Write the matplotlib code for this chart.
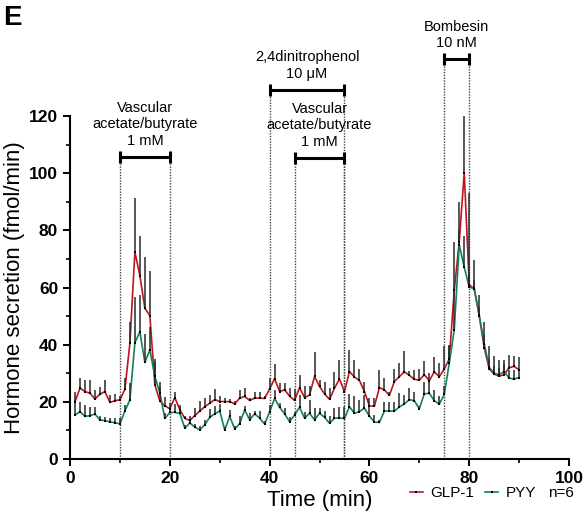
import numpy as np
import matplotlib
matplotlib.use('Agg')
import matplotlib.pyplot as plt
from matplotlib.lines import Line2D
from matplotlib.ticker import MultipleLocator

plt.rcParams['font.family'] = ['Liberation Sans', 'DejaVu Sans']

# minutes 1..90
time = np.arange(1, 91)

glp1 = [20.1, 24.8, 23.6, 23.0, 21.0, 22.7, 23.6, 19.8, 20.4, 20.7,
        24.4, 40.6, 72.4, 64.2, 52.7, 50.2, 26.0, 20.3, 18.6, 17.6,
        21.5, 17.3, 14.2, 13.5, 15.2, 16.8, 18.3, 19.5, 20.8, 20.1,
        20.1, 20.1, 19.3, 21.3, 21.9, 20.5, 21.3, 21.3, 21.2, 24.5,
        28.1, 23.6, 24.2, 22.0, 20.5, 25.0, 21.5, 22.4, 28.9, 25.4,
        22.8, 20.9, 24.8, 28.0, 23.6, 30.6, 28.7, 27.5, 23.6, 18.6,
        18.5, 25.0, 24.2, 22.3, 27.1, 28.8, 30.5, 29.3, 27.9, 27.6,
        29.5, 27.4, 30.5, 28.8, 31.5, 35.0, 59.0, 76.0, 100.2, 61.0,
        59.5, 50.3, 39.0, 31.6, 29.7, 29.0, 29.5, 32.0, 32.4, 31.2]
glp1_sem = [3.2, 3.5, 4.1, 4.5, 3.2, 2.5, 4.0, 2.7, 2.5, 1.5,
            4.0, 7.5, 19.0, 14.0, 18.0, 15.5, 9.0, 5.0, 3.0, 2.0,
            1.8, 1.0, 1.0, 1.5, 2.7, 3.5, 3.2, 2.8, 3.7, 2.0,
            1.2, 1.0, 1.0, 3.0, 2.9, 1.0, 2.3, 2.0, 1.0, 3.8,
            5.3, 2.9, 2.3, 2.8, 3.9, 4.5, 3.9, 3.0, 8.4, 2.3,
            4.3, 3.9, 5.8, 6.7, 1.0, 7.6, 5.8, 4.0, 3.2, 2.7,
            2.7, 6.0, 4.0, 1.0, 4.5, 4.9, 7.3, 1.5, 3.3, 3.8,
            4.8, 2.6, 5.3, 4.8, 8.0, 5.0, 17.0, 14.0, 20.0, 4.0,
            10.0, 7.0, 9.0, 8.0, 6.5, 5.5, 5.0, 4.5, 3.5, 4.5]

pyy = [15.4, 16.6, 14.9, 15.2, 15.7, 13.7, 13.4, 13.0, 12.7, 12.3,
       16.8, 20.7, 40.7, 44.5, 33.8, 38.2, 28.9, 23.1, 14.2, 16.3,
       16.3, 16.0, 10.8, 12.6, 11.2, 10.2, 12.0, 14.6, 15.8, 16.8,
       10.2, 14.9, 10.5, 12.4, 17.2, 13.7, 15.8, 14.3, 12.2, 16.5,
       21.2, 18.1, 15.8, 13.1, 15.4, 18.1, 14.3, 16.0, 13.7, 16.0,
       14.6, 12.5, 14.3, 14.3, 14.2, 18.3, 16.0, 16.6, 17.8, 15.0,
       12.9, 12.8, 16.8, 16.8, 16.8, 18.2, 19.3, 20.8, 20.4, 17.6,
       22.8, 23.0, 20.4, 19.2, 22.6, 33.6, 45.2, 75.0, 67.1, 60.1,
       59.7, 50.2, 40.4, 32.1, 30.0, 29.5, 30.6, 28.3, 28.0, 28.5]
pyy_sem = [5.3, 3.5, 4.0, 3.0, 2.5, 1.4, 1.3, 1.2, 1.5, 2.0,
           2.0, 6.0, 16.0, 13.0, 10.0, 8.0, 5.0, 4.0, 2.0, 2.0,
           3.0, 2.8, 1.0, 1.2, 1.0, 1.5, 1.5, 2.9, 2.6, 2.4,
           1.0, 2.3, 1.0, 2.8, 1.2, 2.3, 1.0, 2.5, 1.0, 2.5,
           3.0, 1.4, 2.2, 1.5, 1.0, 4.3, 2.0, 4.7, 4.0, 2.0,
           2.3, 2.4, 3.5, 3.8, 4.0, 4.3, 6.0, 4.0, 4.5, 3.3,
           2.5, 1.0, 3.2, 3.2, 3.2, 4.9, 3.0, 4.1, 2.9, 1.0,
           4.1, 4.8, 3.8, 3.0, 3.0, 6.0, 14.0, 5.0, 11.0, 33.0,
           3.0, 3.0, 3.0, 3.0, 2.5, 2.5, 2.5, 3.0, 3.0, 3.0]

# treatment periods: (start, end, bracket height, label)
treatments = [
    (10, 20, 105.8, 'Vascular\nacetate/butyrate\n1 mM'),
    (40, 55, 129.2, '2,4dinitrophenol\n10 \u03bcM'),
    (45, 55, 105.4, 'Vascular\nacetate/butyrate\n1 mM'),
    (75, 80, 140.0, 'Bombesin\n10 nM'),
]

red = '#c0141c'
green = '#13805a'

fig = plt.figure(figsize=(5.85, 5.15), dpi=100)
ax = fig.add_axes([0.1197, 0.1087, 0.853, 0.666])

for x0, x1, h, lab in treatments:
    for xv in (x0, x1):
        ax.plot([xv, xv], [0, h], ls=(0, (1.0, 1.0)), color='#444444', lw=1.0,
                clip_on=False, zorder=1)
    ax.plot([x0, x1], [h, h], color='black', lw=2.2, clip_on=False, zorder=5,
            solid_capstyle='butt')
    ax.plot([x0, x1], [h, h], ls='none', marker='|', ms=8, mew=2.2,
            color='black', clip_on=False, zorder=5)
    ax.text((x0 + x1) / 2, h + 3.0, lab, ha='center', va='bottom', fontsize=10.5,
            linespacing=1.25)

ax.plot(time, glp1, color=red, lw=1.2, zorder=3)
ax.plot(time, pyy, color=green, lw=1.2, zorder=3)
low = np.zeros(len(time))
ax.errorbar(time, glp1, yerr=[low, glp1_sem], fmt='none', ecolor='#2a2a2a',
            elinewidth=1.1, capsize=0, zorder=4)
ax.errorbar(time, pyy, yerr=[low, pyy_sem], fmt='none', ecolor='#2a2a2a',
            elinewidth=1.1, capsize=0, zorder=4)
ax.plot(time, glp1, ls='none', marker='s', ms=1.8, mew=0, color='black', zorder=4)
ax.plot(time, pyy, ls='none', marker='s', ms=1.8, mew=0, color='black', zorder=4)

ax.set_xlim(0, 100)
ax.set_ylim(0, 120)
ax.xaxis.set_major_locator(MultipleLocator(20))
ax.xaxis.set_minor_locator(MultipleLocator(10))
ax.yaxis.set_major_locator(MultipleLocator(20))
ax.yaxis.set_minor_locator(MultipleLocator(10))
for s in ('top', 'right'):
    ax.spines[s].set_visible(False)
for s in ('left', 'bottom'):
    ax.spines[s].set_linewidth(1.5)
ax.tick_params(which='major', length=5, width=1.4, direction='out')
ax.tick_params(which='minor', length=3, width=1.2, direction='out')
for lab in ax.get_xticklabels() + ax.get_yticklabels():
    lab.set_fontweight('bold')
    lab.set_fontsize(12.5)

ax.set_xlabel('Time (min)', fontsize=16, labelpad=3)
ax.set_ylabel('Hormone secretion (fmol/min)', fontsize=16, labelpad=3)

handles = [Line2D([0], [0], color=red, lw=1.2, marker='s', ms=1.8, mew=0,
                  mfc='black'),
           Line2D([0], [0], color=green, lw=1.2, marker='s', ms=1.8, mew=0,
                  mfc='black')]
fig.legend(handles, ['GLP-1', 'PYY'], ncol=2, frameon=False, fontsize=11,
           loc='center left', bbox_to_anchor=(0.700, 0.042), handlelength=0.9,
           handletextpad=0.45, columnspacing=0.7, borderpad=0, borderaxespad=0)
fig.text(0.937, 0.042, 'n=6', fontsize=11, ha='left', va='center')

fig.text(0.006, 0.965, 'E', fontsize=20, fontweight='bold', ha='left', va='center')

fig.savefig('out.png', dpi=100)
